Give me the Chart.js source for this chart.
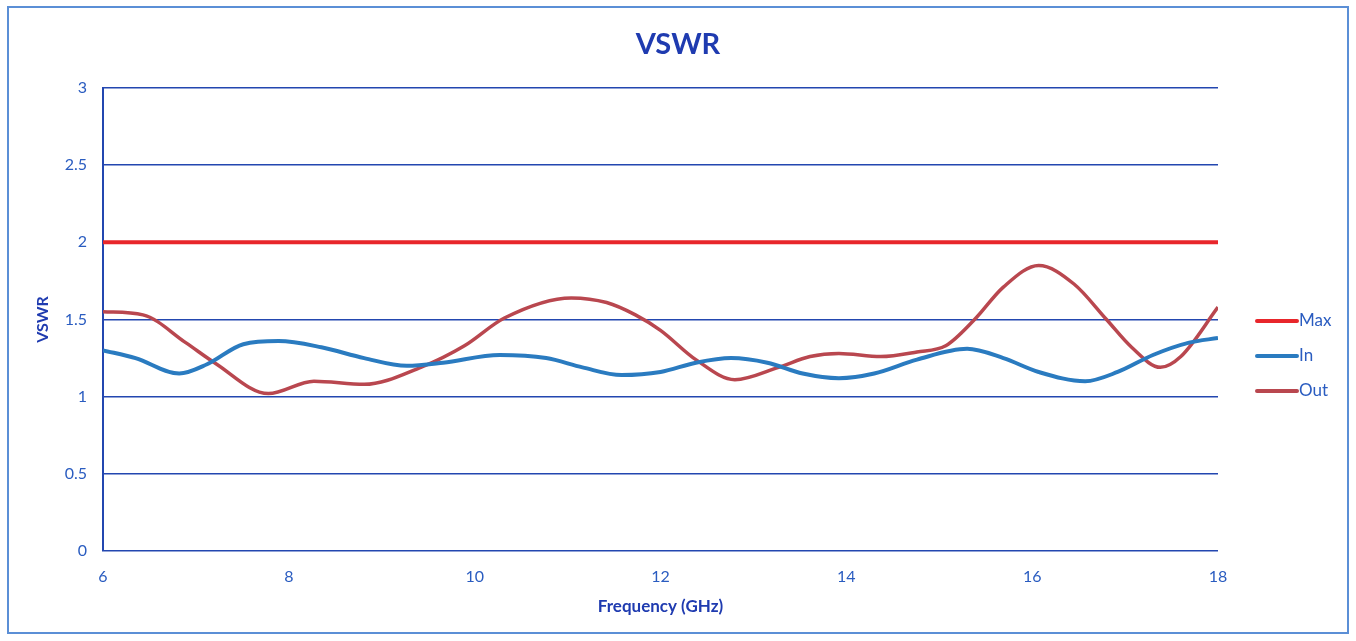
<!DOCTYPE html>
<html>
<head>
<meta charset="utf-8">
<script src="https://cdn.jsdelivr.net/npm/chart.js@4/dist/chart.umd.min.js"></script>
<style>
  html,body{margin:0;padding:0;background:#fff;}
  #wrap{position:relative;width:1356px;height:641px;}
  #frame{position:absolute;left:7px;top:6px;width:1342px;height:628px;border:2px solid #5b8fd6;box-sizing:border-box;pointer-events:none;}
</style>
</head>
<body>
<div id="wrap">
  <canvas id="vswr" width="1356" height="641"></canvas>
  <div id="frame"></div>
</div>
<script>
/* ===== data ===== */
const maxFreq=[6,18];
const maxVswr=[2,2];

const inFreq=[6.0,6.35,6.82,7.12,7.51,7.89,8.35,8.81,9.27,9.66,10.27,10.77,11.16,11.58,12.0,12.38,12.76,13.15,13.53,13.92,14.30,14.76,15.30,15.69,16.07,16.57,16.92,17.30,17.69,18.0];
const inVswr=[1.30,1.25,1.15,1.21,1.34,1.36,1.32,1.25,1.20,1.22,1.27,1.25,1.19,1.14,1.16,1.22,1.25,1.22,1.15,1.12,1.15,1.24,1.31,1.25,1.16,1.10,1.16,1.27,1.35,1.38];

const outFreq=[6.0,6.43,6.89,7.2,7.78,8.27,8.81,9.42,9.89,10.32,11.04,11.42,11.73,12.0,12.38,12.80,13.27,13.61,13.92,14.37,14.76,15.07,15.38,15.69,16.07,16.45,16.80,17.07,17.38,17.60,18.0];
const outVswr=[1.55,1.53,1.35,1.22,1.02,1.10,1.08,1.19,1.33,1.51,1.64,1.61,1.53,1.43,1.24,1.11,1.19,1.26,1.28,1.26,1.29,1.33,1.50,1.71,1.85,1.73,1.50,1.32,1.19,1.26,1.58];

const xTicks=[6,8,10,12,14,16,18];
const yTicks=[0,0.5,1,1.5,2,2.5,3];
const TITLE='VSWR';

const BLUE_TXT='#2a5cc0', DARK_TXT='#1f3bb0', GRID='#2347b0';
const FONT="Lato, 'Open Sans', sans-serif";

const pts=(xs,ys)=>xs.map((x,i)=>({x,y:ys[i]}));
const mkLine=(label,xs,ys,col,w)=>({label,data:pts(xs,ys),borderColor:col,backgroundColor:col,
  borderWidth:w,pointRadius:0,tension:0.4,cubicInterpolationMode:'monotone',fill:false});

/* ---------- title + legend on the right ---------- */
const deco={id:'deco',afterDraw(c){
  const {ctx,chartArea:{right}}=c;
  ctx.save();
  ctx.font="bold 29px "+FONT; ctx.fillStyle=DARK_TXT; ctx.textAlign='center'; ctx.textBaseline='middle';
  ctx.fillText(TITLE,c.width/2,45);
  ctx.font="17px "+FONT; ctx.textAlign='left';
  c.data.datasets.forEach((d,i)=>{
    const y=321+i*35, x0=right+39;
    ctx.strokeStyle=d.borderColor; ctx.lineWidth=4; ctx.lineCap='round';
    ctx.beginPath(); ctx.moveTo(x0,y); ctx.lineTo(x0+40,y); ctx.stroke();
    ctx.fillStyle=BLUE_TXT; ctx.fillText(d.label,x0+42,y);
  });
  ctx.restore();
}};

new Chart(document.getElementById('vswr'),{
  type:'line',
  data:{datasets:[
    mkLine('Max',maxFreq,maxVswr,'#e8262b',4),
    mkLine('In',inFreq,inVswr,'#2a7bc0',4),
    mkLine('Out',outFreq,outVswr,'#b9474f',3.5)
  ]},
  options:{
    responsive:false,animation:false,
    layout:{padding:{left:0,right:138,top:88,bottom:0}},
    plugins:{legend:{display:false},tooltip:{enabled:false},title:{display:false}},
    scales:{
      x:{type:'linear',min:6,max:18,
         afterBuildTicks:s=>{s.ticks=xTicks.map(v=>({value:v}));},
         afterFit:s=>{s.height=90;},
         grid:{display:false,drawTicks:false},
         border:{display:false},
         ticks:{color:BLUE_TXT,padding:16,font:{family:FONT,size:16},maxRotation:0,callback:v=>String(v)},
         title:{display:true,text:'Frequency (GHz)',color:DARK_TXT,font:{family:FONT,size:17,weight:'bold'},padding:{bottom:24}}},
      y:{min:0,max:3,
         afterBuildTicks:s=>{s.ticks=yTicks.map(v=>({value:v}));},
         afterFit:s=>{s.width=103;},
         grid:{color:GRID,lineWidth:1.6,drawTicks:false},
         border:{display:true,color:GRID,width:2},
         ticks:{color:BLUE_TXT,padding:16,font:{family:FONT,size:16},callback:v=>String(v)},
         title:{display:true,text:'VSWR',color:DARK_TXT,font:{family:FONT,size:16,weight:'bold'},padding:{top:33}}}
    }
  },
  plugins:[deco]
});
</script>
</body>
</html>
